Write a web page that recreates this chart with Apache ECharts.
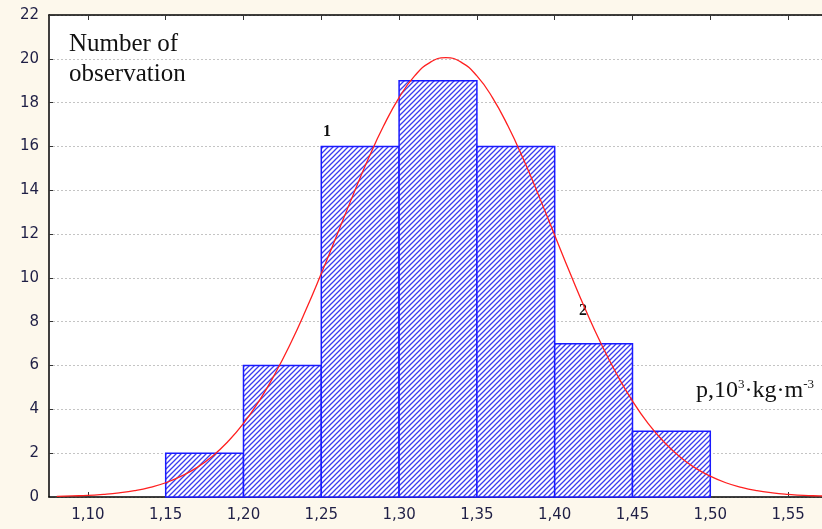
<!DOCTYPE html>
<html>
<head>
<meta charset="utf-8">
<script src="https://cdn.jsdelivr.net/npm/echarts@6/dist/echarts.min.js"></script>
<style>
  html, body { margin: 0; padding: 0; background: #fdf8ec; }
  #chart { width: 822px; height: 529px; }
</style>
</head>
<body>
<div id="chart"></div>
<script>
// histogram bins (lower edge) and counts
var binStart = [1.15, 1.20, 1.25, 1.30, 1.35, 1.40, 1.45];
var binWidth = 0.05;
var counts = [2, 6, 16, 19, 16, 7, 3];

// red fitted curve
var curveX = [1.08, 1.09, 1.10, 1.11, 1.12, 1.13, 1.14, 1.15, 1.16, 1.17, 1.18, 1.19,
  1.20, 1.21, 1.22, 1.23, 1.24, 1.25, 1.26, 1.27, 1.28, 1.29, 1.30, 1.31, 1.32, 1.33,
  1.34, 1.35, 1.36, 1.37, 1.38, 1.39, 1.40, 1.41, 1.42, 1.43, 1.44, 1.45, 1.46, 1.47,
  1.48, 1.49, 1.50, 1.51, 1.52, 1.53, 1.54, 1.55, 1.56, 1.57, 1.58];
var curveY = [0.03, 0.05, 0.07, 0.12, 0.19, 0.29, 0.44, 0.65, 0.95, 1.34, 1.86, 2.53,
  3.36, 4.38, 5.59, 6.97, 8.52, 10.2, 11.95, 13.71, 15.4, 16.93, 18.23, 19.22, 19.84, 20.05,
  19.84, 19.22, 18.23, 16.93, 15.4, 13.71, 11.95, 10.2, 8.52, 6.97, 5.59, 4.38, 3.36, 2.53,
  1.86, 1.34, 0.95, 0.65, 0.44, 0.29, 0.19, 0.12, 0.07, 0.05, 0.03];

var xTicks = [1.10, 1.15, 1.20, 1.25, 1.30, 1.35, 1.40, 1.45, 1.50, 1.55];

// hatch pattern for the bars
var hatch = document.createElement('canvas');
hatch.width = 5; hatch.height = 5;
var hc = hatch.getContext('2d');
hc.fillStyle = '#ffffff';
hc.fillRect(0, 0, 5, 5);
hc.strokeStyle = '#3c3cf0';
hc.lineWidth = 1.3;
hc.beginPath();
hc.moveTo(-1, 6); hc.lineTo(6, -1);
hc.moveTo(-1, 1); hc.lineTo(1, -1);
hc.moveTo(4, 6); hc.lineTo(6, 4);
hc.stroke();

var barData = [];
for (var i = 0; i < counts.length; i++) {
  barData.push([binStart[i], binStart[i] + binWidth, counts[i]]);
}
var lineData = [];
for (var i = 0; i < curveX.length; i++) {
  lineData.push([curveX[i], curveY[i]]);
}

var labelColor = '#1f1f45';
var tickFont = 'DejaVu Sans';
var myChart = echarts.init(document.getElementById('chart'));
var option = {
  backgroundColor: '#fdf8ec',
  animation: false,
  grid: {
    left: 49, top: 15, right: 0, height: 482,
    show: true, backgroundColor: '#ffffff', borderWidth: 0
  },
  xAxis: [{
    type: 'value', min: 1.075, max: 1.5718,
    axisLine: { lineStyle: { color: '#000', width: 1.5 } },
    axisTick: { inside: true, length: 5, lineStyle: { color: '#333' }, customValues: xTicks },
    axisLabel: {
      color: labelColor, fontFamily: tickFont, fontSize: 15, margin: 11,
      customValues: xTicks,
      formatter: function (v) { return v.toFixed(2).replace('.', ','); }
    },
    splitLine: { show: false }
  }, {
    type: 'value', position: 'top', min: 1.075, max: 1.5718,
    axisLine: { show: true, lineStyle: { color: '#000', width: 1.5 } },
    axisTick: { inside: true, length: 5, lineStyle: { color: '#333' }, customValues: xTicks },
    axisLabel: { show: false },
    splitLine: { show: false }
  }],
  yAxis: {
    type: 'value', min: 0, max: 22, interval: 2,
    axisLine: { show: true, lineStyle: { color: '#000', width: 1.5 } },
    axisTick: { inside: true, length: 4, lineStyle: { color: '#333' } },
    axisLabel: { color: labelColor, fontFamily: tickFont, fontSize: 15, margin: 10 },
    splitLine: { show: true, lineStyle: { color: '#c4c4c4', type: [2, 2], width: 1 } }
  },
  series: [{
    type: 'custom',
    data: barData,
    encode: { x: [0, 1], y: 2 },
    z: 2,
    renderItem: function (params, api) {
      var p0 = api.coord([api.value(0), 0]);
      var p1 = api.coord([api.value(1), api.value(2)]);
      return {
        type: 'rect',
        shape: { x: p0[0], y: p1[1], width: p1[0] - p0[0], height: p0[1] - p1[1] },
        style: { fill: { image: hatch, repeat: 'repeat' }, stroke: '#1a1aff', lineWidth: 1.5 }
      };
    }
  }, {
    type: 'line',
    data: lineData,
    smooth: true,
    symbol: 'none',
    z: 3,
    lineStyle: { color: '#ff2020', width: 1.3 }
  }],
  graphic: [{
    type: 'text', left: 69, top: 29,
    style: { text: 'Number of\nobservation', font: '25px "Liberation Serif", serif', fill: '#111', lineHeight: 30 }
  }, {
    type: 'text', left: 323, top: 124,
    style: { text: '1', font: 'bold 16px "Liberation Serif", serif', fill: '#111' }
  }, {
    type: 'text', left: 579, top: 303,
    style: { text: '2', font: 'bold 16px "Liberation Serif", serif', fill: '#111' }
  }, {
    type: 'text', left: 696, top: 378,
    style: {
      text: 'p,10{s|3}·kg·m{s|-3}',
      font: '24px "Liberation Serif", serif', fill: '#111',
      rich: {
        s: { fontSize: 13, fontFamily: 'Liberation Serif', verticalAlign: 'top', lineHeight: 26, fill: '#111' }
      }
    }
  }]
};
myChart.setOption(option);
</script>
</body>
</html>
